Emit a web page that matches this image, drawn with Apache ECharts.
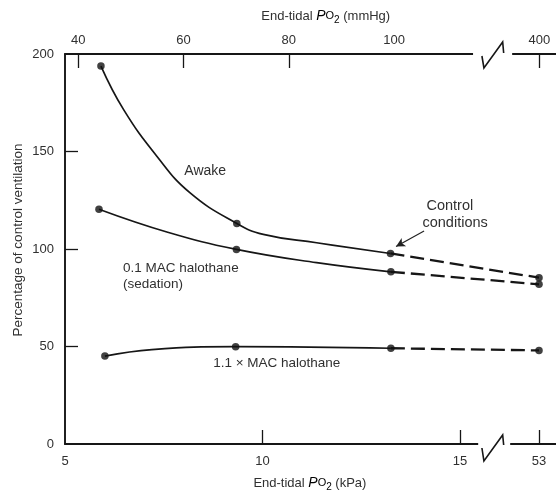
<!DOCTYPE html>
<html><head><meta charset="utf-8">
<script src="https://cdn.jsdelivr.net/npm/echarts@6/dist/echarts.min.js"></script>
<style>html,body{margin:0;padding:0;background:#fff}#c{width:556px;height:493px}</style>
</head><body><div id="c"></div>
<script>
// ---------- data (x in kPa, y in % of control ventilation) ----------
const kPaTicks = [5, 10, 15, 53];
const mmHgTicks = [40, 60, 80, 100, 400];
const mmHgTickMarks = [40, 60, 80, 400];
const yTicks = [0, 50, 100, 150, 200];

const awakeDotsX = [5.91, 9.35, 13.24];
const awakeDotsY = [193.8, 113.1, 97.7];
const mac01DotsX = [5.86, 9.34, 13.25];
const mac01DotsY = [120.4, 99.8, 88.3];
const mac11DotsX = [6.01, 9.32, 13.25];
const mac11DotsY = [45.1, 49.9, 49.1];

const hyperoxiaX = 53;           // kPa (≈400 mmHg)
const awakeHyperoxiaY = 85.3;
const mac01HyperoxiaY = 81.9;
const mac11HyperoxiaY = 48.0;

// traced solid curves
const awakeCurveX = [5.91, 6.48, 7.32, 8.16, 9.35, 10.02, 11.37, 13.24];
const awakeCurveY = [193.8, 171.6, 147.7, 128.9, 113.1, 107.5, 103.2, 97.7];
const mac01CurveX = [5.86, 7.60, 9.34, 11.37, 13.25];
const mac01CurveY = [120.4, 108.6, 99.8, 93.0, 88.3];
const mac11CurveX = [6.01, 7.20, 9.32, 13.25];
const mac11CurveY = [45.1, 48.4, 49.9, 49.1];

// ---------- broken x scale ----------
const MMHG_PER_KPA = 7.5;
const BREAK_START = 15.5;   // kPa after which the axis is broken
const BREAK_POS = 17.0;     // axis position where 53 kPa is drawn
function axisPos(kPa) { return kPa > BREAK_START ? BREAK_POS + (kPa - hyperoxiaX) * 0.02 : kPa; }
const X_MIN = 5, X_MAX = 17.43;

const INK = '#161616', TXT = '#303030';
const FONT = '"Liberation Sans", Arial, sans-serif';

function pts(xs, ys) { return xs.map((x, i) => [axisPos(x), ys[i]]); }
function nearestLabel(v, ticks, conv) {
  let best = ticks[0], d = 1e9;
  ticks.forEach(t => { const dd = Math.abs(axisPos(conv(t)) - v); if (dd < d) { d = dd; best = t; } });
  return String(best);
}

const solid = (xs, ys) => ({
  type: 'line', data: pts(xs, ys), smooth: 0.45, showSymbol: false, symbol: 'none',
  lineStyle: { color: INK, width: 1.7 }, silent: true, z: 3
});
const dashed = (x0, y0, y1) => ({
  type: 'line', data: [[axisPos(x0), y0], [axisPos(hyperoxiaX), y1]], showSymbol: false, symbol: 'none',
  lineStyle: { color: INK, width: 2.3, type: [14, 6] }, silent: true, z: 3
});
const dots = (xs, ys) => ({
  type: 'scatter', data: pts(xs, ys), symbol: 'circle', symbolSize: 7.5,
  itemStyle: { color: '#111' }, silent: true, z: 4
});

const chart = echarts.init(document.getElementById('c'), null, { renderer: 'canvas' });
const option = {
  backgroundColor: '#fff',
  animation: false,
  grid: { left: 65, right: 0, top: 54, bottom: 49, containLabel: false, outerBoundsMode: 'none' },
  xAxis: [{
    type: 'value', position: 'bottom', min: X_MIN, max: X_MAX,
    axisLine: { show: true, onZero: false, lineStyle: { color: INK, width: 1.9 } },
    axisTick: { show: true, inside: true, length: 14, lineStyle: { color: INK, width: 1.3 },
      customValues: kPaTicks.slice(1).map(axisPos) },
    axisLabel: { show: true, margin: 11, fontSize: 13, color: TXT, fontFamily: FONT,
      customValues: kPaTicks.map(axisPos),
      formatter: v => nearestLabel(v, kPaTicks, t => t) },
    splitLine: { show: false }
  }, {
    type: 'value', position: 'top', min: X_MIN, max: X_MAX,
    axisLine: { show: true, onZero: false, lineStyle: { color: INK, width: 1.9 } },
    axisTick: { show: true, inside: true, length: 14, lineStyle: { color: INK, width: 1.3 },
      customValues: mmHgTickMarks.map(m => axisPos(m / MMHG_PER_KPA)) },
    axisLabel: { show: true, margin: 7, fontSize: 13, color: TXT, fontFamily: FONT,
      customValues: mmHgTicks.map(m => axisPos(m / MMHG_PER_KPA)),
      formatter: v => nearestLabel(v, mmHgTicks, m => m / MMHG_PER_KPA) },
    splitLine: { show: false }
  }],
  yAxis: {
    type: 'value', min: 0, max: 200, interval: 50,
    axisLine: { show: true, onZero: false, lineStyle: { color: INK, width: 1.9 } },
    axisTick: { show: true, inside: true, length: 13, lineStyle: { color: INK, width: 1.3 },
      customValues: yTicks.slice(1, 4) },
    axisLabel: { margin: 11, fontSize: 13, color: TXT, fontFamily: FONT, customValues: yTicks },
    splitLine: { show: false }
  },
  series: [
    solid(awakeCurveX, awakeCurveY),
    solid(mac01CurveX, mac01CurveY),
    solid(mac11CurveX, mac11CurveY),
    dashed(awakeDotsX[2], awakeDotsY[2], awakeHyperoxiaY),
    dashed(mac01DotsX[2], mac01DotsY[2], mac01HyperoxiaY),
    dashed(mac11DotsX[2], mac11DotsY[2], mac11HyperoxiaY),
    dots(awakeDotsX.concat([hyperoxiaX]), awakeDotsY.concat([awakeHyperoxiaY])),
    dots(mac01DotsX.concat([hyperoxiaX]), mac01DotsY.concat([mac01HyperoxiaY])),
    dots(mac11DotsX.concat([hyperoxiaX]), mac11DotsY.concat([mac11HyperoxiaY])),
    {
      type: 'line', data: [], silent: true,
      markLine: {
        silent: true, animation: false, symbol: ['none', 'arrow'], symbolSize: [7, 9],
        lineStyle: { color: '#222', width: 1.2, type: 'solid' }, label: { show: false },
        data: [[{ coord: [14.09, 109.2] }, { coord: [13.38, 101.3] }]]
      }
    }
  ]
};
chart.setOption(option);

// ---------- decorations: axis breaks, titles, annotations ----------
const P = (x, y) => chart.convertToPixel({ xAxisIndex: 0, yAxisIndex: 0 }, [x, y]);
const yBot = P(X_MIN, 0)[1], yTop = P(X_MIN, 200)[1];
function breakGlyph(ay, gapFrom, gapTo, xl, xr, offs) {
  const a = P(gapFrom, 0)[0], b = P(gapTo, 0)[0], l = P(xl, 0)[0], r = P(xr, 0)[0];
  return [
    { type: 'rect', shape: { x: a, y: ay - 3, width: b - a, height: 6 }, style: { fill: '#fff' }, z: 100 },
    { type: 'polyline', z: 101, shape: { points: [[l - 1, ay + offs[0]], [l + 1, ay + offs[1]], [r, ay + offs[2]], [r + 1, ay + offs[3]]] },
      style: { stroke: INK, lineWidth: 1.6, fill: null } }
  ];
}
function text(t, x, y, opts) {
  return Object.assign({ type: 'text', z: 102, x: x, y: y,
    style: Object.assign({ text: t, fill: TXT, font: '13px ' + FONT, align: 'left', verticalAlign: 'middle' }, opts || {}) });
}
const titleRich = {
  n: { fontSize: 13, fontFamily: FONT, fill: TXT, color: TXT },
  i: { fontSize: 14, fontFamily: FONT, fontStyle: 'italic', color: TXT },
  o: { fontSize: 11, fontFamily: FONT, color: TXT },
  s: { fontSize: 10, fontFamily: FONT, color: TXT, padding: [9, 0, 0, 0] }
};
function title(unit, cx, cy) {
  const c = P(cx, 0)[0];
  return { type: 'text', z: 102, x: c, y: cy,
    style: { text: '{n|End-tidal }{i|P}{o|O}{s|2}{n| (' + unit + ')}', rich: titleRich, align: 'center', verticalAlign: 'middle' } };
}
const annotations = [
  { t: 'Awake', x: 8.02, y: 140, size: 14 },
  { t: '0.1 MAC halothane', x: 6.47, y: 90.3, size: 13.5 },
  { t: '(sedation)', x: 6.47, y: 82.1, size: 13.5 },
  { t: '1.1 \u00d7 MAC halothane', x: 8.75, y: 41.5, size: 13.5 },
  { t: 'Control', x: 14.15, y: 122.2, size: 14.5 },
  { t: 'conditions', x: 14.05, y: 113.4, size: 14.5 }
];
const g = []
  .concat(breakGlyph(yBot, 15.46, 16.27, 15.58, 16.08, [4, 17, -9, 1]))
  .concat(breakGlyph(yTop, 15.33, 16.32, 15.58, 16.08, [2, 14, -12, -1]))
  .concat(annotations.map(a => { const p = P(a.x, a.y); return text(a.t, p[0], p[1], { font: a.size + 'px ' + FONT }); }))
  .concat([
    title('kPa', 11.2, 483),
    title('mmHg', 11.6, 16),
    { type: 'text', z: 102, x: 18, y: 240, rotation: Math.PI / 2,
      style: { text: 'Percentage of control ventilation', fill: TXT, font: '13.5px ' + FONT, align: 'center', verticalAlign: 'middle' } }
  ]);
chart.setOption({ graphic: { elements: g } });
</script>
</body></html>
